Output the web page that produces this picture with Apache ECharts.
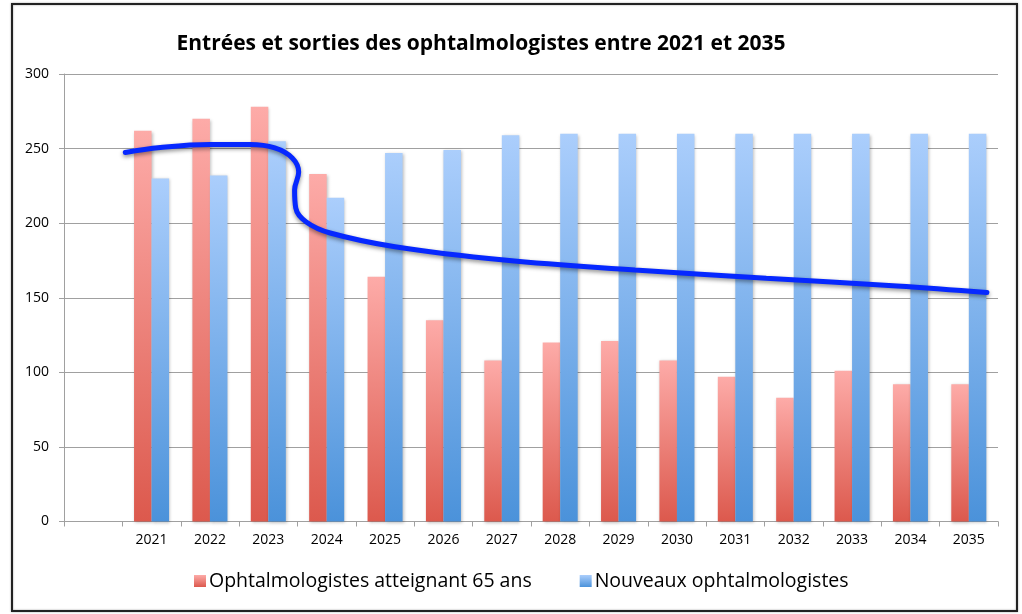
<!DOCTYPE html>
<html>
<head>
<meta charset="utf-8">
<script src="https://cdn.jsdelivr.net/npm/echarts@6/dist/echarts.min.js"></script>
<style>
html,body{margin:0;padding:0;background:#fff;}
#c{width:1022px;height:614px;}
</style>
</head>
<body>
<div id="c"></div>
<script>
var categories = ['', '2021','2022','2023','2024','2025','2026','2027','2028','2029','2030','2031','2032','2033','2034','2035'];
var sortants = [null, 262, 270, 278, 233, 164, 135, 108, 120, 121, 108, 97, 83, 101, 92, 92];
var nouveaux = [null, 230, 232, 255, 217, 247, 249, 259, 260, 260, 260, 260, 260, 260, 260, 260];
// hand-drawn trend curve: [position in category units (0..16), value]
var courbeX = [1.05, 1.65, 2.50, 3.19, 3.61, 3.91, 4.02, 3.95, 3.97, 4.15, 4.56, 5.67, 7.54, 9.78, 12.03, 14.27, 15.81];
var courbeY = [247.4, 250.7, 252.7, 252.7, 250.4, 243.7, 234.3, 222.2, 210.2, 200.8, 193.4, 184.2, 175.3, 168.6, 163.0, 157.9, 153.5];
var yTicks = [0, 50, 100, 150, 200, 250, 300];

var courbe = courbeX.map(function(x, i){ return [x, courbeY[i]]; });

var redGrad = new echarts.graphic.LinearGradient(0,0,0,1,[{offset:0,color:'#fdaba8'},{offset:1,color:'#dc594d'}]);
var blueGrad = new echarts.graphic.LinearGradient(0,0,0,1,[{offset:0,color:'#abcefc'},{offset:1,color:'#4b92da'}]);

var chart = echarts.init(document.getElementById('c'));
chart.setOption({
  animation: false,
  backgroundColor: '#fff',
  title: {
    text: 'Entrées et sorties des ophtalmologistes entre 2021 et 2035',
    left: 476, textAlign: 'center', top: 29,
    textStyle: {fontFamily: 'Open Sans', fontWeight: 'bold', fontSize: 21, color: '#000'}
  },
  legend: {
    bottom: 18, left: 189, itemGap: 48, itemWidth: 12, itemHeight: 12,
    textStyle: {fontFamily: 'Open Sans', fontSize: 19.5, color: '#000', padding: [0,0,0,-2]},
    data: [
      {name: 'Ophtalmologistes atteignant 65 ans', icon: 'rect', itemStyle: {color: redGrad}},
      {name: 'Nouveaux ophtalmologistes', icon: 'rect', itemStyle: {color: blueGrad}}
    ]
  },
  grid: {left: 64, right: 24, top: 74, bottom: 92.5, containLabel: false},
  xAxis: [{
    type: 'category', data: categories, boundaryGap: true,
    axisLine: {lineStyle: {color: '#a0a0a0', width: 1}},
    axisTick: {show: true, alignWithLabel: false, length: 5, lineStyle: {color: '#a0a0a0'}},
    axisLabel: {color: '#000', fontFamily: 'Open Sans', fontSize: 14, margin: 12, interval: 0}
  }, {
    type: 'value', min: 0, max: 16, show: false
  }],
  yAxis: {
    type: 'value', min: 0, max: 300, interval: 50,
    axisLine: {show: true, lineStyle: {color: '#a0a0a0'}},
    axisTick: {show: true, length: 5, lineStyle: {color: '#a0a0a0'}},
    splitLine: {lineStyle: {color: '#a0a0a0', width: 1}},
    axisLabel: {color: '#000', fontFamily: 'Open Sans', fontSize: 14, margin: 15,
      customValues: yTicks}
  },
  graphic: [{
    type: 'rect', shape: {x: 12, y: 4, width: 1005, height: 607},
    style: {fill: 'none', stroke: '#222', lineWidth: 2, shadowBlur: 2, shadowColor: 'rgba(0,0,0,0.4)'},
    silent: true, z: 100
  }],
  series: [{
    name: 'Ophtalmologistes atteignant 65 ans', type: 'bar', data: sortants,
    barGap: '0%', barCategoryGap: '40%',
    itemStyle: {color: redGrad, shadowBlur: 3, shadowColor: 'rgba(0,0,0,0.25)', shadowOffsetX: 1, shadowOffsetY: 1}
  }, {
    name: 'Nouveaux ophtalmologistes', type: 'bar', data: nouveaux,
    barGap: '0%', barCategoryGap: '40%',
    itemStyle: {color: blueGrad, shadowBlur: 3, shadowColor: 'rgba(0,0,0,0.25)', shadowOffsetX: 1, shadowOffsetY: 1}
  }, {
    name: 'courbe', type: 'line', xAxisIndex: 1, data: courbe, smooth: 0.4,
    showSymbol: false, symbol: 'none',
    lineStyle: {color: '#0628ff', width: 5, cap: 'round', shadowBlur: 4, shadowColor: 'rgba(0,0,0,0.45)', shadowOffsetY: 2},
    z: 10
  }]
});
</script>
</body>
</html>
